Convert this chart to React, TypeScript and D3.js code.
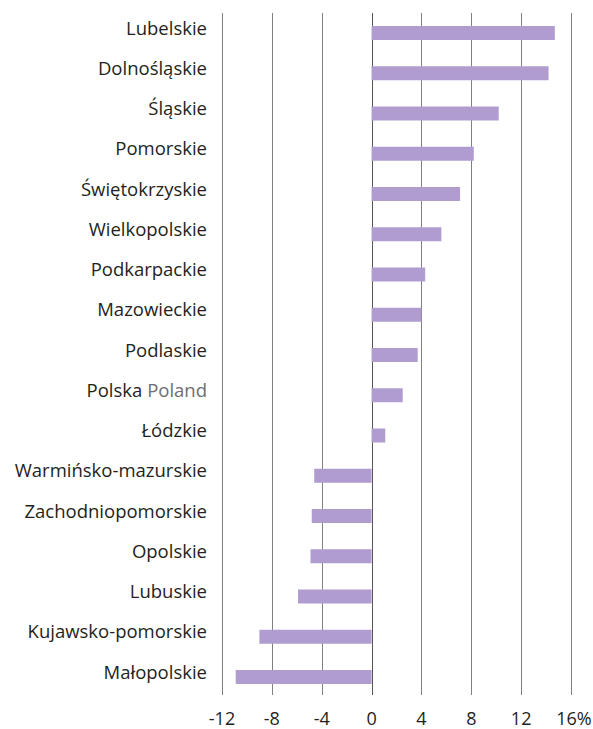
import React, { useEffect, useRef } from 'react';
import * as d3 from 'd3';

// regions, top to bottom (change in %)
const regions = [
  'Lubelskie', 'Dolnośląskie', 'Śląskie', 'Pomorskie', 'Świętokrzyskie',
  'Wielkopolskie', 'Podkarpackie', 'Mazowieckie', 'Podlaskie', 'Polska',
  'Łódzkie', 'Warmińsko-mazurskie', 'Zachodniopomorskie', 'Opolskie',
  'Lubuskie', 'Kujawsko-pomorskie', 'Małopolskie'
];
const values = [
  14.7, 14.2, 10.2, 8.2, 7.1,
  5.6, 4.3, 4.0, 3.7, 2.5,
  1.1, -4.6, -4.8, -4.9,
  -5.9, -9.0, -10.9
];
const xTicks = [-12, -8, -4, 0, 4, 8, 12, 16];

const W = 593;
const H = 729;
const FONT = '"Open Sans", "Noto Sans", sans-serif';

export default function App() {
  const ref = useRef<SVGSVGElement>(null);

  useEffect(() => {
    const svg = d3.select(ref.current);
    svg.selectAll('*').remove();

    const x = d3.scaleLinear().domain([-12, 16]).range([222, 571]);
    const y = d3.scalePoint<string>().domain(regions).range([33, 677]);
    const barH = 14;

    // vertical grid lines
    svg.append('g').selectAll('line').data(xTicks).enter().append('line')
      .attr('x1', d => Math.round(x(d)) + 0.5)
      .attr('x2', d => Math.round(x(d)) + 0.5)
      .attr('y1', 13)
      .attr('y2', 695)
      .attr('stroke', d => d === 0 ? '#555' : '#808080')
      .attr('stroke-width', 1);

    // bars
    svg.append('g').selectAll('rect').data(values).enter().append('rect')
      .attr('x', d => x(Math.min(0, d)))
      .attr('y', (d, i) => (y(regions[i]) as number) - barH / 2)
      .attr('width', d => Math.abs(x(d) - x(0)))
      .attr('height', barH)
      .attr('fill', '#b09ccf');

    // category labels
    const labels = svg.append('g').selectAll('text').data(regions).enter().append('text')
      .attr('x', 207)
      .attr('y', d => (y(d) as number) + 1.5)
      .attr('text-anchor', 'end')
      .attr('font-family', FONT)
      .attr('font-size', 18.5)
      .attr('fill', '#231f20');
    labels.each(function (d) {
      const t = d3.select(this);
      if (d === 'Polska') {
        t.append('tspan').text('Polska ');
        t.append('tspan').attr('fill', '#6d6e71').text('Poland');
      } else {
        t.text(d);
      }
    });

    // x tick labels
    svg.append('g').selectAll('text').data(xTicks).enter().append('text')
      .attr('x', d => x(d) + (d === 16 ? 3 : 0))
      .attr('y', 725)
      .attr('text-anchor', 'middle')
      .attr('font-family', FONT)
      .attr('font-size', 18)
      .attr('fill', '#231f20')
      .text(d => d === 16 ? '16%' : String(d));
  }, []);

  return (
    <div style={{ position: 'absolute', left: 0, top: 0 }}>
      <svg ref={ref} width={W} height={H} style={{ display: 'block', background: '#fff' }} />
    </div>
  );
}
